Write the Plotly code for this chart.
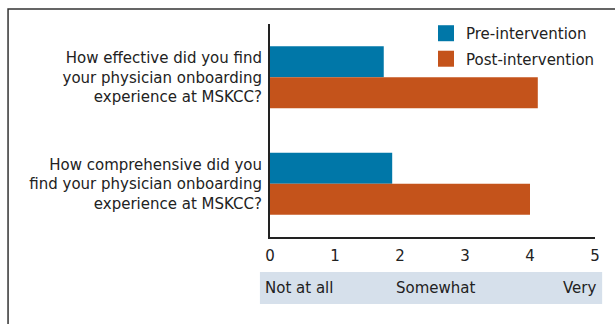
import plotly.graph_objects as go

questions = [
    "How effective did you find<br>your physician onboarding<br>experience at MSKCC?",
    "How comprehensive did you<br>find your physician onboarding<br>experience at MSKCC?",
]
pre_scores = [1.75, 1.88]
post_scores = [4.12, 4.0]
series_names = ["Pre-intervention", "Post-intervention"]
tick_values = [0, 1, 2, 3, 4, 5]
scale_labels = ["Not at all", "Somewhat", "Very"]
scale_label_pos = [-0.0215, 0.511, 1.009]
scale_label_anchor = ["left", "center", "right"]

BLUE = "#0077a8"
ORANGE = "#c4531b"
BAND = "#d6e0eb"
INK = "#222222"
FONT = "DejaVu Sans, Verdana, sans-serif"

fig = go.Figure()
for name, scores, color in zip(series_names, [pre_scores, post_scores], [BLUE, ORANGE]):
    fig.add_trace(go.Bar(y=questions, x=scores, orientation="h", name=name,
                         marker_color=color, marker_line_width=0,
                         showlegend=False, legendgroup=name))
    # legend swatch drawn as a larger square marker
    fig.add_trace(go.Scatter(x=[None], y=[None], mode="markers", name=name,
                             legendgroup=name,
                             marker=dict(symbol="square", size=16, color=color,
                                         line_width=0)))

# outer frame
fig.add_shape(type="rect", xref="paper", yref="paper",
              x0=-0.806, x1=1.2, y0=-0.6, y1=1.07,
              line=dict(color="#333", width=1.5), fillcolor="rgba(0,0,0,0)",
              layer="below")

# scale band under the axis
fig.add_shape(type="rect", xref="paper", yref="paper",
              x0=-0.031, x1=1.022, y0=-0.315, y1=-0.164,
              line_width=0, fillcolor=BAND, layer="below")

for text, xpos, anchor in zip(scale_labels, scale_label_pos, scale_label_anchor):
    fig.add_annotation(text=text, x=xpos, xref="paper", y=-0.238, yref="paper",
                       xanchor=anchor, yanchor="middle", showarrow=False,
                       font=dict(size=15, color=INK, family=FONT))

fig.update_layout(
    width=615, height=324,
    margin=dict(l=270, r=20, t=24, b=87),
    paper_bgcolor="white", plot_bgcolor="white",
    barmode="group", bargap=0.42, bargroupgap=0,
    font=dict(family=FONT, size=15, color=INK),
    legend=dict(x=0.48, y=1.033, xanchor="left", yanchor="top",
                font=dict(size=15, color=INK, family=FONT),
                bgcolor="rgba(0,0,0,0)", traceorder="grouped",
                tracegroupgap=3, itemwidth=30),
    xaxis=dict(range=[0, 5], tickvals=tick_values, showgrid=False, zeroline=False,
               showline=True, linecolor=INK, linewidth=2, ticks="",
               ticklabelstandoff=4, tickfont=dict(size=15, color=INK)),
    yaxis=dict(autorange="reversed", showgrid=False, zeroline=False,
               showline=True, linecolor=INK, linewidth=2, ticks="",
               ticklabelstandoff=3, tickfont=dict(size=15, color=INK)),
)

fig.write_html("out.html")
